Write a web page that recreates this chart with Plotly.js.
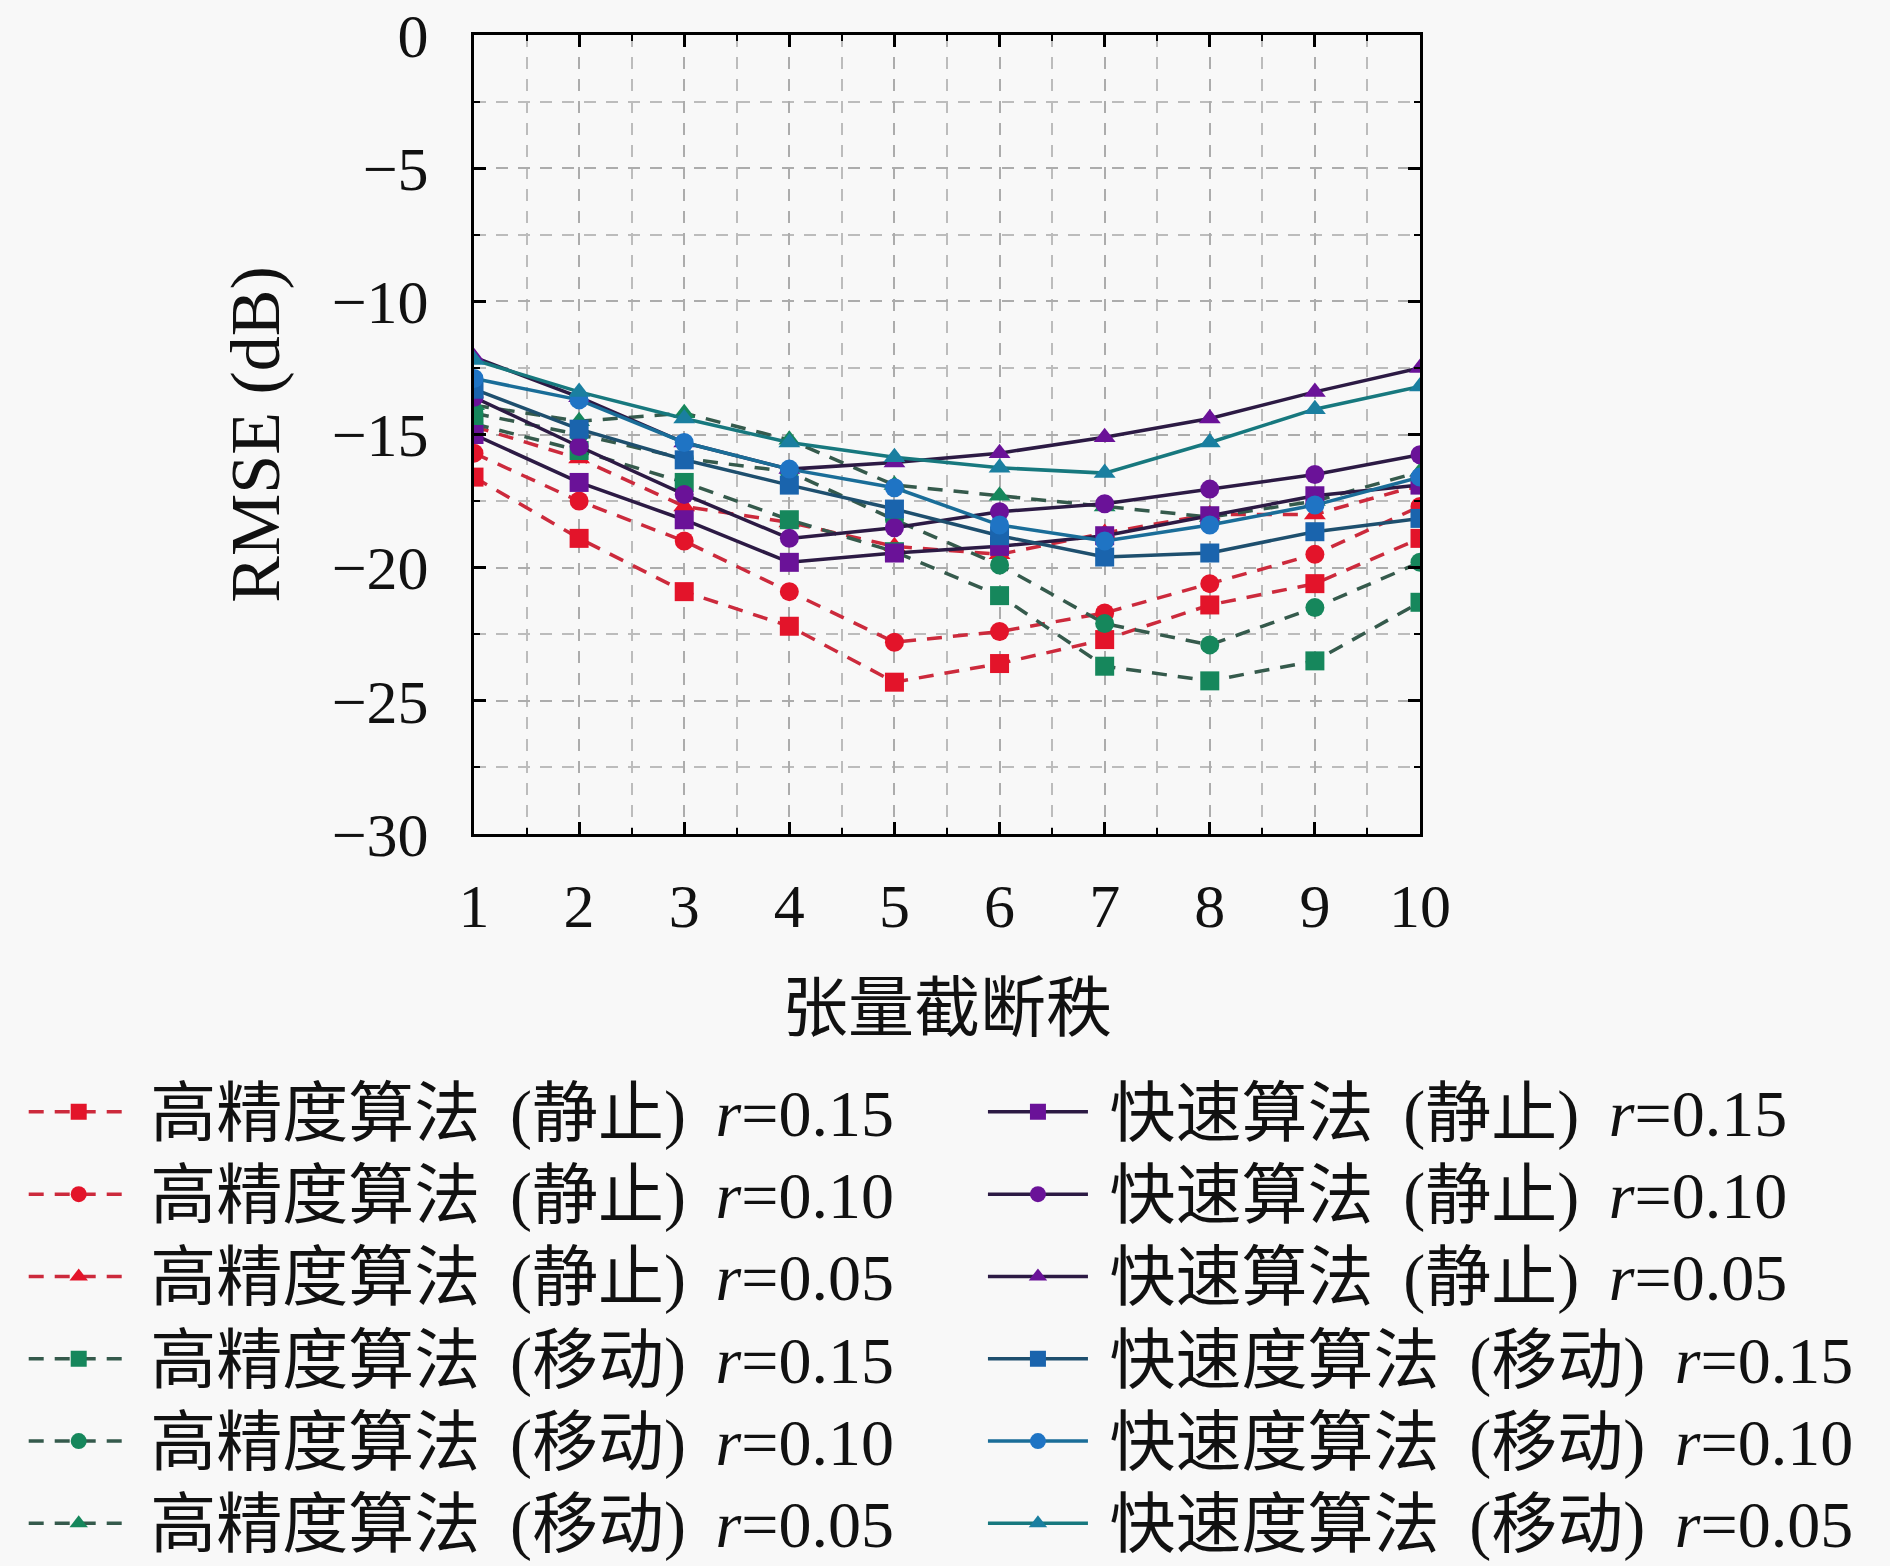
<!DOCTYPE html>
<html>
<head>
<meta charset="utf-8">
<script src="https://cdn.plot.ly/plotly-3.0.1.min.js"></script>
<style>
  body { margin: 0; background: #f8f8f8; }
  #chart { width: 1890px; height: 1566px; }
</style>
</head>
<body>
<div id="chart"></div>
<script>
// rank axis
var ranks = [1, 2, 3, 4, 5, 6, 7, 8, 9, 10];
var yTicks = [0, -5, -10, -15, -20, -25, -30];

// high precision algorithm, static
var hpStatic015 = [-16.6, -18.9, -20.9, -22.2, -24.3, -23.6, -22.7, -21.4, -20.6, -18.9];
var hpStatic010 = [-15.7, -17.5, -19.0, -20.9, -22.8, -22.4, -21.7, -20.6, -19.5, -17.7];
var hpStatic005 = [-14.7, -15.9, -17.7, -18.3, -19.2, -19.5, -18.7, -18.0, -18.0, -16.9];
// high precision algorithm, moving
var hpMove015 = [-14.6, -15.6, -16.8, -18.2, -19.4, -21.05, -23.7, -24.25, -23.5, -21.3];
var hpMove010 = [-14.2, -15.0, -15.9, -16.4, -18.2, -19.9, -22.1, -22.9, -21.5, -19.8];
var hpMove005 = [-13.9, -14.5, -14.2, -15.2, -16.9, -17.3, -17.7, -18.1, -17.5, -16.4];
// fast algorithm, static
var fastStatic015 = [-15.0, -16.8, -18.2, -19.8, -19.45, -19.2, -18.8, -18.05, -17.3, -16.9];
var fastStatic010 = [-13.6, -15.45, -17.25, -18.9, -18.5, -17.9, -17.6, -17.05, -16.5, -15.76];
var fastStatic005 = [-12.1, -13.6, -15.3, -16.3, -16.05, -15.7, -15.1, -14.4, -13.4, -12.5];
// fast algorithm, moving
var fastMove015 = [-13.3, -14.8, -15.95, -16.9, -17.8, -18.8, -19.6, -19.45, -18.65, -18.15];
var fastMove010 = [-12.9, -13.7, -15.3, -16.3, -17.0, -18.4, -19.0, -18.4, -17.65, -16.6];
var fastMove005 = [-12.2, -13.4, -14.4, -15.3, -15.85, -16.25, -16.45, -15.3, -14.05, -13.2];

var hpStaticNames = ['高精度算法 (静止) <i>r</i>=0.15', '高精度算法 (静止) <i>r</i>=0.10', '高精度算法 (静止) <i>r</i>=0.05'];
var hpMoveNames = ['高精度算法 (移动) <i>r</i>=0.15', '高精度算法 (移动) <i>r</i>=0.10', '高精度算法 (移动) <i>r</i>=0.05'];
var fastStaticNames = ['快速算法 (静止) <i>r</i>=0.15', '快速算法 (静止) <i>r</i>=0.10', '快速算法 (静止) <i>r</i>=0.05'];
var fastMoveNames = ['快速度算法 (移动) <i>r</i>=0.15', '快速度算法 (移动) <i>r</i>=0.10', '快速度算法 (移动) <i>r</i>=0.05'];

var symbols = ['square', 'circle', 'triangle-up'];
var FONT = 'Liberation Serif, "Noto Sans CJK SC", serif';

// a bit more air around the words, like the LaTeX legend; text a touch larger than row spacing
function spaced(name) {
  var s = name.replace(' (', ' \u2009(').replace(') ', ') \u2009');
  return '<span style="font-size:66px">&nbsp;' + s + '</span>';
}

function series(y, name, sym, lineColor, markerColor, dash, legend) {
  return {
    type: 'scatter', mode: 'lines+markers',
    x: ranks, y: y, name: spaced(name), legend: legend,
    line: {color: lineColor, width: 3.5, dash: dash},
    marker: {symbol: sym, size: 19, color: markerColor}
  };
}

function BuildChart() {
  var data = [
    series(hpStatic015, hpStaticNames[0], symbols[0], '#cc2a3c', '#e3142a', '15px,11px', 'legend'),
    series(hpStatic010, hpStaticNames[1], symbols[1], '#cc2a3c', '#e3142a', '15px,11px', 'legend'),
    series(hpStatic005, hpStaticNames[2], symbols[2], '#cc2a3c', '#e3142a', '15px,11px', 'legend'),
    series(hpMove015, hpMoveNames[0], symbols[0], '#355a4c', '#16875c', '15px,11px', 'legend'),
    series(hpMove010, hpMoveNames[1], symbols[1], '#355a4c', '#16875c', '15px,11px', 'legend'),
    series(hpMove005, hpMoveNames[2], symbols[2], '#355a4c', '#16875c', '15px,11px', 'legend'),
    series(fastStatic015, fastStaticNames[0], symbols[0], '#2c1a44', '#6a1298', 'solid', 'legend2'),
    series(fastStatic010, fastStaticNames[1], symbols[1], '#2c1a44', '#6a1298', 'solid', 'legend2'),
    series(fastStatic005, fastStaticNames[2], symbols[2], '#2c1a44', '#6a1298', 'solid', 'legend2'),
    series(fastMove015, fastMoveNames[0], symbols[0], '#1e4f6e', '#1a64ad', 'solid', 'legend2'),
    series(fastMove010, fastMoveNames[1], symbols[1], '#1a6d98', '#1f74c4', 'solid', 'legend2'),
    series(fastMove005, fastMoveNames[2], symbols[2], '#17787e', '#1a7fa0', 'solid', 'legend2')
  ];

  var legendBase = {
    orientation: 'v', yanchor: 'top', xanchor: 'left',
    bgcolor: 'rgba(0,0,0,0)', borderwidth: 0,
    itemwidth: 100, tracegroupgap: 0,
    font: {family: FONT, size: 61, color: '#111'}
  };
  var legend1 = Object.assign({}, legendBase, {x: -0.476, y: -0.290});
  var legend2 = Object.assign({}, legendBase, {x: 0.538, y: -0.290});

  var layout = {
    width: 1890, height: 1566,
    paper_bgcolor: '#f8f8f8', plot_bgcolor: '#f8f8f8',
    margin: {l: 474, r: 470, t: 35, b: 732, autoexpand: false},
    font: {family: FONT, size: 60, color: '#111'},
    showlegend: true,
    legend: legend1,
    legend2: legend2,
    xaxis: {
      range: [1, 10], tickmode: 'array', tickvals: ranks,
      showline: true, linecolor: '#000', linewidth: 3, mirror: 'ticks',
      ticks: 'inside', ticklen: 12, tickwidth: 3, tickcolor: '#000',
      ticklabelstandoff: 16, ticklabeloverflow: 'allow',
      tickfont: {family: FONT, size: 62},
      showgrid: true, gridcolor: '#acacac', gridwidth: 2, griddash: '12px,10px',
      minor: {dtick: 0.5, showgrid: true, gridcolor: '#bcbcbc', gridwidth: 2, griddash: '12px,10px',
              ticks: 'inside', ticklen: 6, tickwidth: 2, tickcolor: '#000'},
      zeroline: false,
      title: {text: '张量截断秩', standoff: 46, font: {family: FONT, size: 66}}
    },
    yaxis: {
      range: [-30, 0], tickmode: 'array', tickvals: yTicks,
      showline: true, linecolor: '#000', linewidth: 3, mirror: 'ticks',
      ticks: 'inside', ticklen: 12, tickwidth: 3, tickcolor: '#000',
      ticklabelstandoff: 30, ticklabeloverflow: 'allow',
      tickfont: {family: FONT, size: 62},
      showgrid: true, gridcolor: '#acacac', gridwidth: 2, griddash: '12px,10px',
      minor: {dtick: 2.5, showgrid: true, gridcolor: '#bcbcbc', gridwidth: 2, griddash: '12px,10px',
              ticks: 'inside', ticklen: 6, tickwidth: 2, tickcolor: '#000'},
      zeroline: false,
      title: {text: 'RMSE (dB)', standoff: 30, font: {family: FONT, size: 70}}
    }
  };

  Plotly.newPlot('chart', data, layout, {displayModeBar: false});
}

BuildChart();
</script>
</body>
</html>
